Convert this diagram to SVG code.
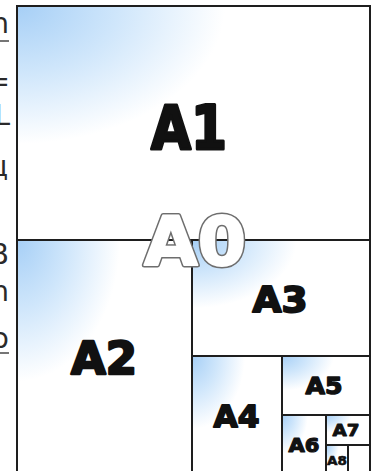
<svg xmlns="http://www.w3.org/2000/svg" width="375" height="471" viewBox="0 0 375 471">
<style>
.sheet{stroke:#1e1e1e;stroke-width:2;fill:url(#g)}
.lbl{font-family:"DejaVu Sans",sans-serif;font-weight:bold;fill:#111;stroke:#111;stroke-linejoin:round;text-anchor:middle}
.frag{font-family:"DejaVu Sans",sans-serif;font-size:28px;fill:#2a2a2a;text-anchor:end}
.a0{font-family:"DejaVu Sans",sans-serif;font-weight:bold;font-size:68px;text-anchor:middle;stroke-linejoin:round}
</style>
<defs>
<radialGradient id="g" cx="0" cy="0" r="0.95" fx="0" fy="0">
<stop offset="0" stop-color="#a6cff6"/>
<stop offset="0.3" stop-color="#cfe6fb"/>
<stop offset="0.62" stop-color="#ffffff"/>
<stop offset="1" stop-color="#ffffff"/>
</radialGradient>
</defs>
<rect width="375" height="471" fill="#ffffff"/>
<g id="fragments">
<text class="frag" x="9" y="33">n</text>
<line x1="0" y1="41" x2="9" y2="41" stroke="#2a2a2a" stroke-width="1.3"/>
<text class="frag" x="10" y="91" font-size="70">=</text>
<text class="frag" x="10" y="125" font-size="16">L</text>
<text class="frag" x="8" y="176">ц</text>
<text class="frag" x="9" y="264">B</text>
<text class="frag" x="9" y="301">n</text>
<text class="frag" x="9" y="348">o</text>
<line x1="0" y1="353" x2="9" y2="353" stroke="#2a2a2a" stroke-width="1.3"/>
</g>
<g id="sheets">
<rect id="A1" class="sheet" x="17" y="6" width="353" height="234"/>
<rect id="A2" class="sheet" x="17" y="240" width="175" height="240"/>
<rect id="A3" class="sheet" x="192" y="240" width="178" height="116"/>
<rect id="A4" class="sheet" x="192" y="356" width="90" height="124"/>
<rect id="A5" class="sheet" x="282" y="356" width="88" height="59"/>
<rect id="A6" class="sheet" x="282" y="415" width="44" height="65"/>
<rect id="A7" class="sheet" x="326" y="415" width="44" height="30"/>
<rect id="A8" class="sheet" x="326" y="445" width="22" height="35"/>
<rect id="A9" class="sheet" x="348" y="445" width="22" height="35" style="fill:#fff"/>
</g>
<g id="labels">
<text class="lbl" x="189" y="149" font-size="60" stroke-width="3" textLength="76" lengthAdjust="spacingAndGlyphs">A1</text>
<text class="lbl" x="104" y="374" font-size="44" stroke-width="2.4" textLength="66" lengthAdjust="spacingAndGlyphs">A2</text>
<text class="lbl" x="280" y="312" font-size="35" stroke-width="2" textLength="55" lengthAdjust="spacingAndGlyphs">A3</text>
<text class="lbl" x="236.5" y="427" font-size="31" stroke-width="1.8" textLength="46" lengthAdjust="spacingAndGlyphs">A4</text>
<text class="lbl" x="324" y="394" font-size="23" stroke-width="1.4" textLength="37" lengthAdjust="spacingAndGlyphs">A5</text>
<text class="lbl" x="304" y="452" font-size="20" stroke-width="1.2" textLength="31" lengthAdjust="spacingAndGlyphs">A6</text>
<text class="lbl" x="346" y="436" font-size="16" stroke-width="0.9" textLength="27" lengthAdjust="spacingAndGlyphs">A7</text>
<text class="lbl" x="337" y="465" font-size="13" stroke-width="0.6" textLength="20" lengthAdjust="spacingAndGlyphs">A8</text>
<g id="A0">
<text class="a0" x="195" y="265" fill="none" stroke="#6e6e6e" stroke-width="5" textLength="102" lengthAdjust="spacingAndGlyphs">A0</text>
<text class="a0" x="195" y="265" fill="#ffffff" stroke="#ffffff" stroke-width="2" textLength="102" lengthAdjust="spacingAndGlyphs">A0</text>
</g>
</g>
</svg>
